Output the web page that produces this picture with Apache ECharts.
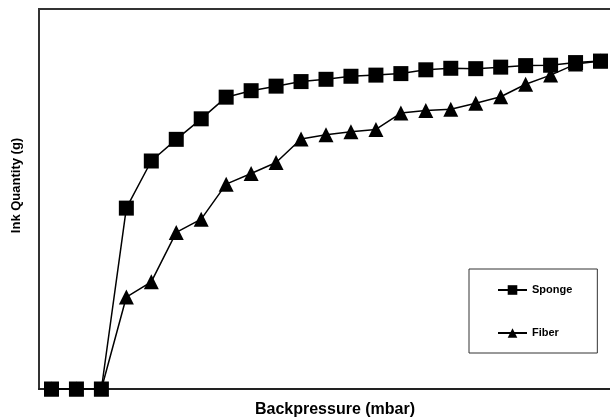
<!DOCTYPE html>
<html>
<head>
<meta charset="utf-8">
<script src="https://cdn.jsdelivr.net/npm/echarts@6/dist/echarts.min.js"></script>
<style>
html,body{margin:0;padding:0;background:#fff;}
#chart{width:610px;height:419px;}
</style>
</head>
<body>
<div id="chart"></div>
<script>
var categories = ['1','2','3','4','5','6','7','8','9','10','11','12','13','14','15','16','17','18','19','20','21','22','23'];
var sponge = [0,0,0,47.6,60.0,65.7,71.1,76.8,78.5,79.7,80.9,81.5,82.3,82.6,83.0,84.0,84.4,84.3,84.7,85.1,85.2,85.9,86.3];
var fiber  = [0,0,0,24.2,28.2,41.2,44.7,53.9,56.7,59.6,65.8,66.9,67.7,68.3,72.6,73.3,73.6,75.2,76.9,80.2,82.6,85.5,86.3];

var chart = echarts.init(document.getElementById('chart'), null, {renderer:'canvas'});
chart.setOption({
  animation: false,
  backgroundColor: '#ffffff',
  grid: {left: 39, top: 9, width: 574, bottom: 30, outerBoundsMode: 'none', containLabel: false,
         show: true, borderColor: '#333', borderWidth: 2, backgroundColor: 'transparent'},
  xAxis: {
    type: 'category', data: categories, boundaryGap: true,
    axisLine: {show: true, lineStyle: {color: '#222', width: 2}},
    axisTick: {show: false}, axisLabel: {show: false}, splitLine: {show: false},
    name: 'Backpressure (mbar)', nameLocation: 'middle', nameGap: 13,
    nameTextStyle: {fontFamily: 'Liberation Sans, Arial, sans-serif', fontWeight: 'bold', fontSize: 16, color: '#000', padding: [0,0,0,18], verticalAlign: 'top'}
  },
  yAxis: {
    type: 'value', min: 0, max: 100,
    axisLine: {show: true, lineStyle: {color: '#333', width: 2}},
    axisTick: {show: false}, axisLabel: {show: false}, splitLine: {show: false},
    name: 'Ink Quantity (g)', nameLocation: 'middle', nameGap: 16, nameRotate: 90,
    nameTextStyle: {fontFamily: 'Liberation Sans, Arial, sans-serif', fontWeight: 'bold', fontSize: 13, color: '#000', padding: [0,0,0,27]}
  },
  legend: {
    orient: 'vertical', left: 469, top: 269,
    data: ['Sponge','Fiber'],
    borderColor: '#333', borderWidth: 1, backgroundColor: '#fff',
    padding: [15, 25, 14, 28],
    itemWidth: 29, itemHeight: 12, itemGap: 31,
    textStyle: {fontFamily: 'Liberation Sans, Arial, sans-serif', fontWeight: 'bold', fontSize: 11, color: '#000', lineHeight: 12},
    selectedMode: false
  },
  series: [
    {name: 'Sponge', type: 'line', data: sponge, z: 3,
     symbol: 'rect', symbolSize: 15, showAllSymbol: true,
     itemStyle: {color: '#000'}, lineStyle: {color: '#000', width: 1.5}},
    {name: 'Fiber', type: 'line', data: fiber, z: 2,
     symbol: 'triangle', symbolSize: 15, showAllSymbol: true,
     itemStyle: {color: '#000'}, lineStyle: {color: '#000', width: 1.5}}
  ]
});
</script>
</body>
</html>
